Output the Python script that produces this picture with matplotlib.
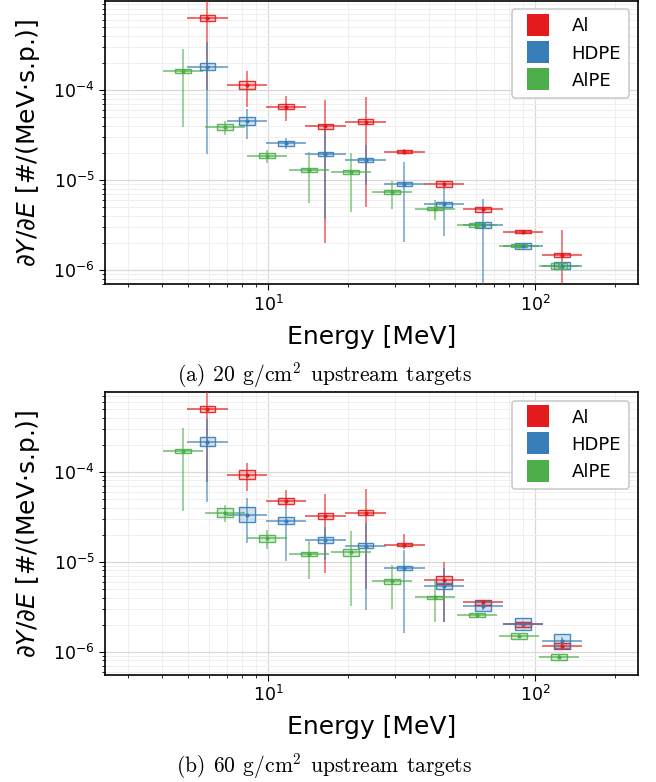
import numpy as np
import matplotlib
matplotlib.use("Agg")
import matplotlib.pyplot as plt
from matplotlib.patches import Rectangle
from matplotlib.lines import Line2D
from matplotlib.ticker import LogLocator, NullFormatter

# ---------------- data ----------------
materials = ["Al", "HDPE", "AlPE"]
colors = ["#e41a1c", "#377eb8", "#4daf4a"]

E_al = [5.93, 8.34, 11.7, 16.4, 23.2, 32.4, 45.5, 64.0, 89.9, 126]
E_hdpe = [5.93, 8.34, 11.7, 16.4, 23.2, 32.4, 45.5, 64.0, 89.9, 126]
E_alpe = [4.81, 6.9, 9.91, 14.2, 20.5, 29.2, 42.1, 60.5, 86.9, 123]

# panel (a): 20 g/cm2
a_al_y = [6.27e-4, 1.13e-4, 6.53e-5, 3.94e-5, 4.44e-5, 2.07e-5, 9.03e-6, 4.72e-6, 2.67e-6, 1.46e-6]
a_al_lo = [1.0e-4, 6.42e-5, 4.53e-5, 2.01e-6, 5.06e-6, 1.95e-5, 8.4e-6, 4.4e-6, 2.55e-6, 4e-7]
a_al_hi = [1.6e-3, 1.64e-4, 8.5e-5, 7.74e-5, 8.36e-5, 2.2e-5, 9.7e-6, 5.05e-6, 2.8e-6, 2.78e-6]
a_al_sys = [0.080, 0.116, 0.072, 0.066, 0.058, 0.034, 0.072, 0.061, 0.039, 0.053]

a_hdpe_y = [1.82e-4, 4.53e-5, 2.55e-5, 1.95e-5, 1.67e-5, 9.03e-6, 5.37e-6, 3.16e-6, 1.85e-6, 1.12e-6]
a_hdpe_lo = [1.93e-5, 2.88e-5, 2.21e-5, 3.69e-6, 8.73e-6, 2.07e-6, 2.39e-6, 4e-7, 1.75e-6, 1.06e-6]
a_hdpe_hi = [3.44e-4, 6.1e-5, 2.9e-5, 3.6e-5, 2.45e-5, 1.58e-5, 8.43e-6, 6.15e-6, 1.95e-6, 1.18e-6]
a_hdpe_sys = [0.094, 0.116, 0.074, 0.058, 0.053, 0.047, 0.061, 0.072, 0.088, 0.088]

a_alpe_y = [1.61e-4, 3.85e-5, 1.85e-5, 1.29e-5, 1.22e-5, 7.3e-6, 4.76e-6, 3.14e-6, 1.85e-6, 1.11e-6]
a_alpe_lo = [3.92e-5, 3.13e-5, 1.55e-5, 5.51e-6, 4.45e-6, 4.76e-6, 3.59e-6, 3.0e-6, 1.78e-6, 1.06e-6]
a_alpe_hi = [2.83e-4, 4.49e-5, 2.14e-5, 2.06e-5, 1.98e-5, 9.75e-6, 6.0e-6, 3.3e-6, 1.92e-6, 1.16e-6]
a_alpe_sys = [0.053, 0.074, 0.066, 0.047, 0.058, 0.047, 0.039, 0.047, 0.039, 0.072]

# panel (b): 60 g/cm2
b_al_y = [4.93e-4, 9.27e-5, 4.77e-5, 3.19e-5, 3.51e-5, 1.55e-5, 6.27e-6, 3.53e-6, 2.01e-6, 1.15e-6]
b_al_lo = [7.74e-5, 6.05e-5, 4.0e-5, 7.43e-6, 5.0e-6, 1.4e-5, 2.16e-6, 3.3e-6, 1.9e-6, 1.08e-6]
b_al_hi = [1.2e-3, 1.25e-4, 6.27e-5, 5.6e-5, 6.42e-5, 2.03e-5, 9.93e-6, 3.8e-6, 2.12e-6, 1.22e-6]
b_al_sys = [0.080, 0.128, 0.085, 0.080, 0.072, 0.044, 0.102, 0.072, 0.072, 0.080]

b_hdpe_y = [2.16e-4, 3.33e-5, 2.86e-5, 1.74e-5, 1.51e-5, 8.58e-6, 5.41e-6, 3.24e-6, 2.03e-6, 1.32e-6]
b_hdpe_lo = [4.57e-5, 1.63e-5, 1.02e-5, 1.05e-5, 2.9e-6, 1.6e-6, 2.16e-6, 2.9e-6, 1.85e-6, 1.2e-6]
b_hdpe_hi = [3.88e-4, 5.06e-5, 4.0e-5, 2.45e-5, 2.67e-5, 1.35e-5, 8.43e-6, 3.6e-6, 2.2e-6, 1.45e-6]
b_hdpe_sys = [0.113, 0.205, 0.094, 0.080, 0.058, 0.047, 0.080, 0.136, 0.166, 0.187]

b_alpe_y = [1.70e-4, 3.51e-5, 1.82e-5, 1.21e-5, 1.27e-5, 6.05e-6, 4.02e-6, 2.58e-6, 1.49e-6, 8.73e-7]
b_alpe_lo = [3.69e-5, 2.74e-5, 1.38e-5, 6.41e-6, 3.21e-6, 2.96e-6, 2.16e-6, 2.45e-6, 1.42e-6, 8.3e-7]
b_alpe_hi = [3.03e-4, 4.23e-5, 2.27e-5, 1.7e-5, 2.21e-5, 9.12e-6, 6.27e-6, 2.72e-6, 1.57e-6, 9.2e-7]
b_alpe_sys = [0.061, 0.122, 0.088, 0.053, 0.094, 0.061, 0.044, 0.053, 0.072, 0.080]

captions = [r"$\mathrm{(a)\;\,20\;\,g/cm^2\;\,upstream\;\,targets}$",
            r"$\mathrm{(b)\;\,60\;\,g/cm^2\;\,upstream\;\,targets}$"]

panels = [
    [(E_al, a_al_y, a_al_lo, a_al_hi, a_al_sys),
     (E_hdpe, a_hdpe_y, a_hdpe_lo, a_hdpe_hi, a_hdpe_sys),
     (E_alpe, a_alpe_y, a_alpe_lo, a_alpe_hi, a_alpe_sys)],
    [(E_al, b_al_y, b_al_lo, b_al_hi, b_al_sys),
     (E_hdpe, b_hdpe_y, b_hdpe_lo, b_hdpe_hi, b_hdpe_sys),
     (E_alpe, b_alpe_y, b_alpe_lo, b_alpe_hi, b_alpe_sys)],
]

BIN_HALF = 1.19   # half bin width (ratio)
BOX_HALF = 1.07   # half box width (ratio)

# ---------------- figure ----------------
W, H = 656, 782
fig = plt.figure(figsize=(W / 100, H / 100), dpi=100)

axes_px = [(105, 0.7, 638, 284.3), (105, 392, 638, 674.7)]
ylims = [(6.93e-7, 9.8e-4), (5.56e-7, 7.7e-4)]
caption_y = [375, 766]

for pi, (panel, (x0, y0, x1, y1)) in enumerate(zip(panels, axes_px)):
    ax = fig.add_axes([x0 / W, 1 - y1 / H, (x1 - x0) / W, (y1 - y0) / H])
    ax.set_xscale("log")
    ax.set_yscale("log")
    ax.set_xlim(2.45, 243)
    ax.set_ylim(*ylims[pi])
    ax.grid(True, which="major", color="#d9d9d9", lw=0.9, zorder=0)
    ax.grid(True, which="minor", color="#efefef", lw=0.7, zorder=0)
    ax.set_axisbelow(True)

    for (E, y, lo, hi, sys), c in zip(panel, colors):
        E = np.asarray(E); y = np.asarray(y)
        ax.hlines(y, E / BIN_HALF, E * BIN_HALF, color=c, lw=1.2, alpha=0.75, zorder=3)
        ax.vlines(E, lo, hi, color=c, lw=1.2, alpha=0.65, zorder=3)
        for e, yy, s in zip(E, y, sys):
            ax.add_patch(Rectangle((e / BOX_HALF, yy / (1 + s)), e * BOX_HALF - e / BOX_HALF,
                                   yy * (1 + s) - yy / (1 + s),
                                   facecolor=c, alpha=0.22, edgecolor="none", zorder=4))
            ax.add_patch(Rectangle((e / BOX_HALF, yy / (1 + s)), e * BOX_HALF - e / BOX_HALF,
                                   yy * (1 + s) - yy / (1 + s),
                                   facecolor="none", edgecolor=c, lw=1.0, alpha=0.9, zorder=5))
        ax.plot(E, y, "o", ms=2, color=c, zorder=6)

    ax.yaxis.set_minor_locator(LogLocator(base=10, subs=np.arange(2, 10), numticks=20))
    ax.yaxis.set_minor_formatter(NullFormatter())
    ax.xaxis.set_minor_formatter(NullFormatter())
    ax.tick_params(which="major", labelsize=12.5, length=4)
    ax.tick_params(which="minor", length=2.5)
    for sp in ax.spines.values():
        sp.set_linewidth(1.2)
    ax.set_xlabel("Energy [MeV]", fontsize=18, labelpad=7)
    ax.set_ylabel(r"$\partial Y/\partial E$ [#/(MeV$\cdot$s.p.)]", fontsize=18, labelpad=8)

    handles = [Line2D([], [], marker="s", ms=16, ls="none", color=c, markeredgewidth=0)
               for c in colors]
    leg = ax.legend(handles, materials, loc="upper right", fontsize=13,
                    handlelength=2.0, labelspacing=0.5, handletextpad=0.87,
                    borderpad=0.45, borderaxespad=0.48, fancybox=True,
                    framealpha=1.0, edgecolor="#cccccc")
    leg.get_frame().set_linewidth(1.2)

    fig.text(324 / W, 1 - caption_y[pi] / H, captions[pi], ha="center", va="center",
             fontsize=15.5, math_fontfamily="cm")

fig.savefig("out.png", dpi=100)
